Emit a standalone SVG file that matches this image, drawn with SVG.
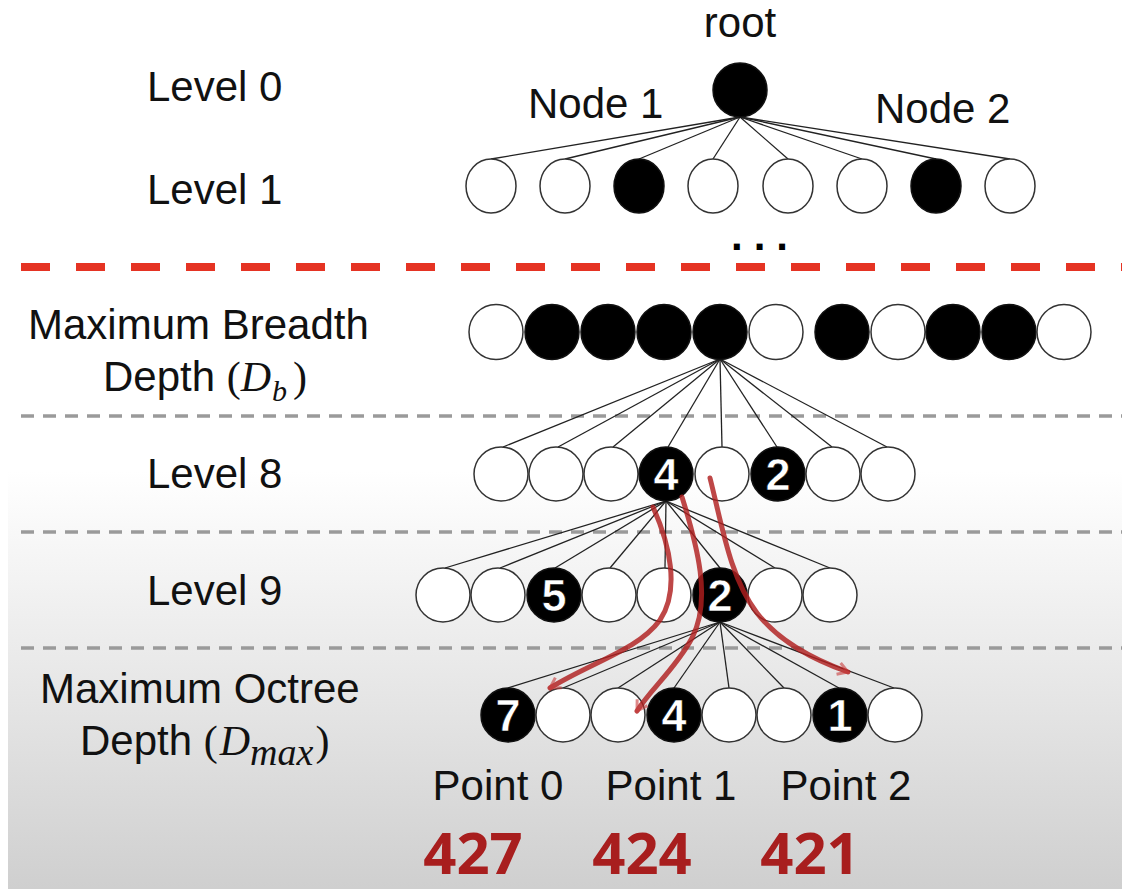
<svg xmlns="http://www.w3.org/2000/svg" width="1122" height="889" viewBox="0 0 1122 889">
<defs>
<linearGradient id="bg" x1="0" y1="0" x2="0" y2="889" gradientUnits="userSpaceOnUse">
<stop offset="0" stop-color="#ffffff"/>
<stop offset="0.53" stop-color="#ffffff"/>
<stop offset="0.75" stop-color="#e9e9e9"/>
<stop offset="1" stop-color="#cfcfcf"/>
</linearGradient>
<marker id="ah" viewBox="-12 -8 14 16" markerWidth="14" markerHeight="16" refX="0" refY="0" orient="auto" markerUnits="userSpaceOnUse">
<path d="M-10,-6 L0,0 L-10,6" fill="none" stroke="#c83a3a" stroke-width="3" stroke-opacity="0.6"/>
</marker>
<style>
.lbl{font-family:"Liberation Sans",Arial,sans-serif;font-size:42px;fill:#111}
.ser{font-family:"Liberation Serif","Times New Roman",serif}
.it{font-family:"Liberation Serif","Times New Roman",serif;font-style:italic}
.w{fill:#fff;stroke:#333;stroke-width:1.5}
.b{fill:#000;stroke:#111;stroke-width:1.5}
.num{font-family:"Liberation Sans",Arial,sans-serif;font-size:45px;font-weight:bold;fill:#fff;text-anchor:middle;stroke:#000;stroke-width:0.6}
.pt{font-family:"Liberation Sans",Arial,sans-serif;font-size:42px;fill:#111;text-anchor:middle}
.big{font-family:"Open Sans","Liberation Sans",sans-serif;font-weight:bold;font-size:58px;fill:#a81e1e;text-anchor:middle}
.edge{stroke:#222;stroke-width:1.3;fill:none}
.gd{stroke:#9a9a9a;stroke-width:3.5;stroke-dasharray:13 9}
.arr{stroke:#b01e1e;stroke-width:5;fill:none;stroke-opacity:0.82;stroke-linecap:round}
</style>
</defs>
<rect x="0" y="0" width="1122" height="889" fill="#ffffff"/>
<rect x="8" y="0" width="1114" height="889" fill="url(#bg)"/>

<g id="labels">
<text class="lbl" x="147" y="101">Level 0</text>
<text class="lbl" x="147" y="204">Level 1</text>
<text class="lbl" x="28" y="339" font-size="43.5">Maximum Breadth</text>
<text class="lbl" x="103" y="391">Depth <tspan class="ser">(</tspan><tspan class="it">D</tspan><tspan class="it" font-size="30" dx="1" dy="10">b</tspan><tspan class="ser" dx="6" dy="-10">)</tspan></text>
<text class="lbl" x="147" y="488">Level 8</text>
<text class="lbl" x="147" y="605">Level 9</text>
<text class="lbl" x="40" y="703" font-size="43.5">Maximum Octree</text>
<text class="lbl" x="80" y="755">Depth <tspan class="ser">(</tspan><tspan class="it" dx="2">D</tspan><tspan class="it" font-size="38" dx="0" dy="10">max</tspan><tspan class="ser" dx="2" dy="-10">)</tspan></text>
</g>

<g id="separators">
<line x1="21" y1="267" x2="1122" y2="267" stroke="#e53323" stroke-width="8" stroke-dasharray="29 26"/>
<line class="gd" x1="21" y1="416" x2="1122" y2="416"/>
<line class="gd" x1="21" y1="532" x2="1122" y2="532"/>
<line class="gd" x1="21" y1="648" x2="1122" y2="648"/>
</g>

<g id="connectors">
<line class="edge" x1="740" y1="117" x2="491" y2="159"/>
<line class="edge" x1="740" y1="117" x2="565" y2="159"/>
<line class="edge" x1="740" y1="117" x2="639" y2="159"/>
<line class="edge" x1="740" y1="117" x2="713" y2="159"/>
<line class="edge" x1="740" y1="117" x2="788" y2="159"/>
<line class="edge" x1="740" y1="117" x2="862" y2="159"/>
<line class="edge" x1="740" y1="117" x2="936" y2="159"/>
<line class="edge" x1="740" y1="117" x2="1010" y2="159"/>
<line class="edge" x1="720" y1="359" x2="503" y2="447"/>
<line class="edge" x1="720" y1="359" x2="558" y2="447"/>
<line class="edge" x1="720" y1="359" x2="613" y2="447"/>
<line class="edge" x1="720" y1="359" x2="668" y2="447"/>
<line class="edge" x1="720" y1="359" x2="722" y2="447"/>
<line class="edge" x1="720" y1="359" x2="777" y2="447"/>
<line class="edge" x1="720" y1="359" x2="832" y2="447"/>
<line class="edge" x1="720" y1="359" x2="887" y2="447"/>
<line class="edge" x1="666" y1="501" x2="445" y2="568"/>
<line class="edge" x1="666" y1="501" x2="500" y2="568"/>
<line class="edge" x1="666" y1="501" x2="555" y2="568"/>
<line class="edge" x1="666" y1="501" x2="610" y2="568"/>
<line class="edge" x1="666" y1="501" x2="665" y2="568"/>
<line class="edge" x1="666" y1="501" x2="720" y2="568"/>
<line class="edge" x1="666" y1="501" x2="775" y2="568"/>
<line class="edge" x1="666" y1="501" x2="830" y2="568"/>
<line class="edge" x1="720" y1="622" x2="508" y2="688"/>
<line class="edge" x1="720" y1="622" x2="563" y2="688"/>
<line class="edge" x1="720" y1="622" x2="618" y2="688"/>
<line class="edge" x1="720" y1="622" x2="674" y2="688"/>
<line class="edge" x1="720" y1="622" x2="729" y2="688"/>
<line class="edge" x1="720" y1="622" x2="784" y2="688"/>
<line class="edge" x1="720" y1="622" x2="839" y2="688"/>
<line class="edge" x1="720" y1="622" x2="894" y2="688"/>
</g>

<g id="root">
<text class="lbl" x="740" y="37" text-anchor="middle">root</text>
<ellipse class="b" cx="740" cy="90" rx="27" ry="27"/>
</g>
<g id="node-labels">
<text class="lbl" x="528" y="118">Node 1</text>
<text class="lbl" x="875" y="123">Node 2</text>
</g>

<g id="level1">
<ellipse class="w" cx="491" cy="186" rx="25" ry="27"/>
<ellipse class="w" cx="565" cy="186" rx="25" ry="27"/>
<ellipse class="b" cx="639" cy="186" rx="25" ry="27"/>
<ellipse class="w" cx="713" cy="186" rx="25" ry="27"/>
<ellipse class="w" cx="788" cy="186" rx="25" ry="27"/>
<ellipse class="w" cx="862" cy="186" rx="25" ry="27"/>
<ellipse class="b" cx="936" cy="186" rx="25" ry="27"/>
<ellipse class="w" cx="1010" cy="186" rx="25" ry="27"/>
</g>
<g id="ellipsis">
<text x="731" y="250" font-family="Liberation Sans, Arial, sans-serif" font-weight="bold" font-size="42" letter-spacing="11" fill="#000">...</text>
</g>

<g id="breadth-level">
<ellipse class="w" cx="496" cy="332" rx="27" ry="27.5"/>
<ellipse class="b" cx="552" cy="332" rx="27" ry="27.5"/>
<ellipse class="b" cx="608" cy="332" rx="27" ry="27.5"/>
<ellipse class="b" cx="664" cy="332" rx="27" ry="27.5"/>
<ellipse class="b" cx="720" cy="332" rx="27" ry="27.5"/>
<ellipse class="w" cx="776" cy="332" rx="27" ry="27.5"/>
<ellipse class="b" cx="842" cy="332" rx="27" ry="27.5"/>
<ellipse class="w" cx="898" cy="332" rx="27" ry="27.5"/>
<ellipse class="b" cx="953" cy="332" rx="27" ry="27.5"/>
<ellipse class="b" cx="1009" cy="332" rx="27" ry="27.5"/>
<ellipse class="w" cx="1064" cy="332" rx="27" ry="27.5"/>
</g>

<g id="level8">
<circle class="w" cx="501" cy="474" r="27"/>
<circle class="w" cx="556" cy="474" r="27"/>
<circle class="w" cx="611" cy="474" r="27"/>
<circle class="b" cx="666" cy="474" r="27"/>
<text class="num" x="666" y="490">4</text>
<circle class="w" cx="722" cy="474" r="27"/>
<circle class="b" cx="778" cy="474" r="27"/>
<text class="num" x="778" y="490">2</text>
<circle class="w" cx="833" cy="474" r="27"/>
<circle class="w" cx="888" cy="474" r="27"/>
</g>

<g id="level9">
<circle class="w" cx="443" cy="595" r="27"/>
<circle class="w" cx="498" cy="595" r="27"/>
<circle class="b" cx="554" cy="595" r="27"/>
<text class="num" x="554" y="611">5</text>
<circle class="w" cx="609" cy="595" r="27"/>
<circle class="w" cx="664" cy="595" r="27"/>
<circle class="b" cx="720" cy="595" r="27"/>
<text class="num" x="720" y="611">2</text>
<circle class="w" cx="775" cy="595" r="27"/>
<circle class="w" cx="830" cy="595" r="27"/>
</g>

<g id="octree-level">
<circle class="b" cx="508" cy="715" r="27"/>
<text class="num" x="508" y="731">7</text>
<circle class="w" cx="563" cy="715" r="27"/>
<circle class="w" cx="618" cy="715" r="27"/>
<circle class="b" cx="674" cy="715" r="27"/>
<text class="num" x="674" y="731">4</text>
<circle class="w" cx="729" cy="715" r="27"/>
<circle class="w" cx="784" cy="715" r="27"/>
<circle class="b" cx="840" cy="715" r="27"/>
<text class="num" x="840" y="731">1</text>
<circle class="w" cx="895" cy="715" r="27"/>
</g>

<g id="paths">
<path class="arr" d="M653,507 C670,545 680,590 660,620 C638,650 592,662 550,688" marker-end="url(#ah)"/>
<path class="arr" d="M682,497 C697,545 712,600 692,638 C676,668 650,690 637,711" marker-end="url(#ah)"/>
<path class="arr" d="M710,478 C722,525 730,578 757,613 C780,643 815,660 848,672" marker-end="url(#ah)"/>
</g>

<g id="points">
<text class="pt" x="498" y="800">Point 0</text>
<text class="pt" x="671" y="800">Point 1</text>
<text class="pt" x="846" y="800">Point 2</text>
<text class="big" x="473" y="874">427</text>
<text class="big" x="642" y="874">424</text>
<text class="big" x="810" y="874">421</text>
</g>
</svg>
